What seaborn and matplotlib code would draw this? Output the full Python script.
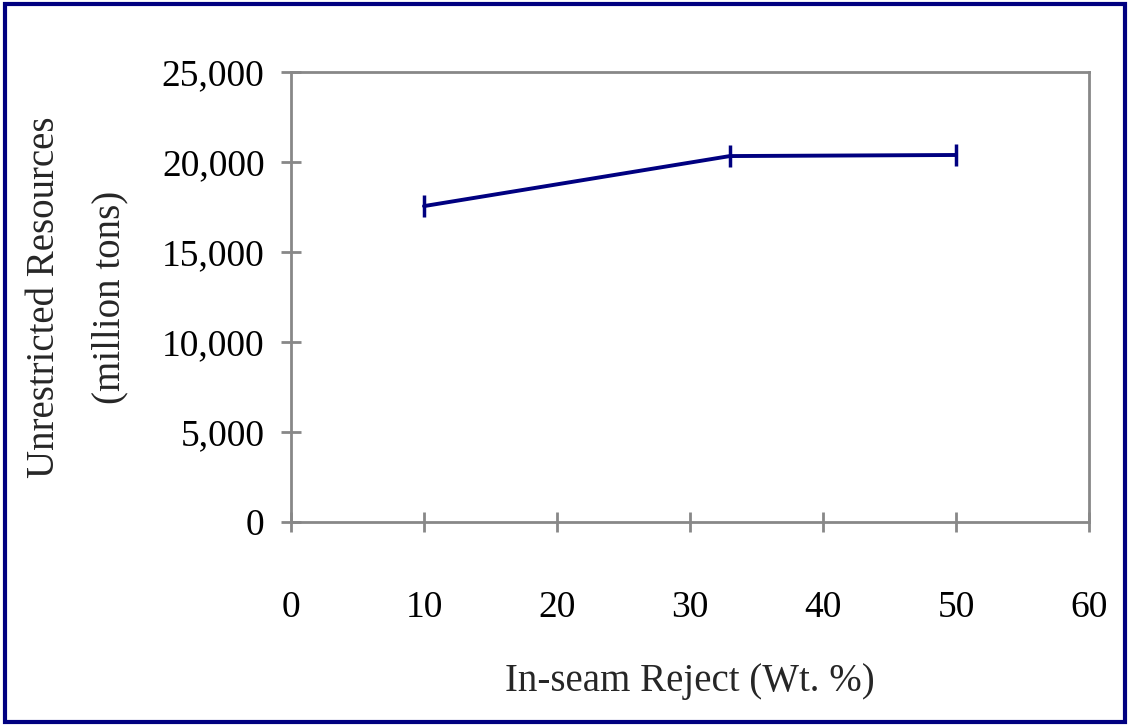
import matplotlib
matplotlib.use("Agg")
import matplotlib.pyplot as plt
import matplotlib.ticker as mticker
import pandas as pd
import seaborn as sns

reject_pct = [10, 33, 50]
resources = [17550, 20330, 20390]

sns.set_style("white")
plt.rcParams['font.family'] = ['Liberation Serif', 'DejaVu Serif']

df = pd.DataFrame({'reject': reject_pct, 'resources': resources})

fig = plt.figure(figsize=(11.3, 7.26), dpi=100)
ax = fig.add_axes([291 / 1130, 1 - 522 / 726, (1089 - 291) / 1130, (522 - 72) / 726])

navy = '#000080'
sns.lineplot(data=df, x='reject', y='resources', ax=ax, color=navy,
             linewidth=2.8, marker='|', markersize=16, markeredgewidth=2.5,
             markeredgecolor=navy)

ax.set_xlim(0, 60)
ax.set_ylim(0, 25000)
ax.set_xticks(range(0, 61, 10))
ax.set_yticks(range(0, 25001, 5000))
ax.yaxis.set_major_formatter(mticker.FuncFormatter(lambda v, p: f'{int(v):,}'))

for s in ax.spines.values():
    s.set_color('#888888')
    s.set_linewidth(2)
ax.tick_params(axis='both', which='major', direction='inout', length=14, width=2,
               color='#888888', labelsize=27, labelcolor='black')
ax.tick_params(axis='x', pad=42)
ax.tick_params(axis='y', pad=12)
ax.tick_params(left=True, bottom=True)

ax.set_xlabel('In-seam Reject (Wt. %)', fontsize=28, labelpad=28)
ax.set_ylabel('Unrestricted Resources\n(million tons)', fontsize=28,
              linespacing=2.0, va='center')
ax.yaxis.set_label_coords((77.5 - 291) / 798, 0.5)

border = plt.Rectangle((0.004, 0.006), 0.992, 0.988, transform=fig.transFigure,
                       fill=False, edgecolor=navy, linewidth=3)
fig.patches.append(border)

fig.savefig('out.png', dpi=100)
